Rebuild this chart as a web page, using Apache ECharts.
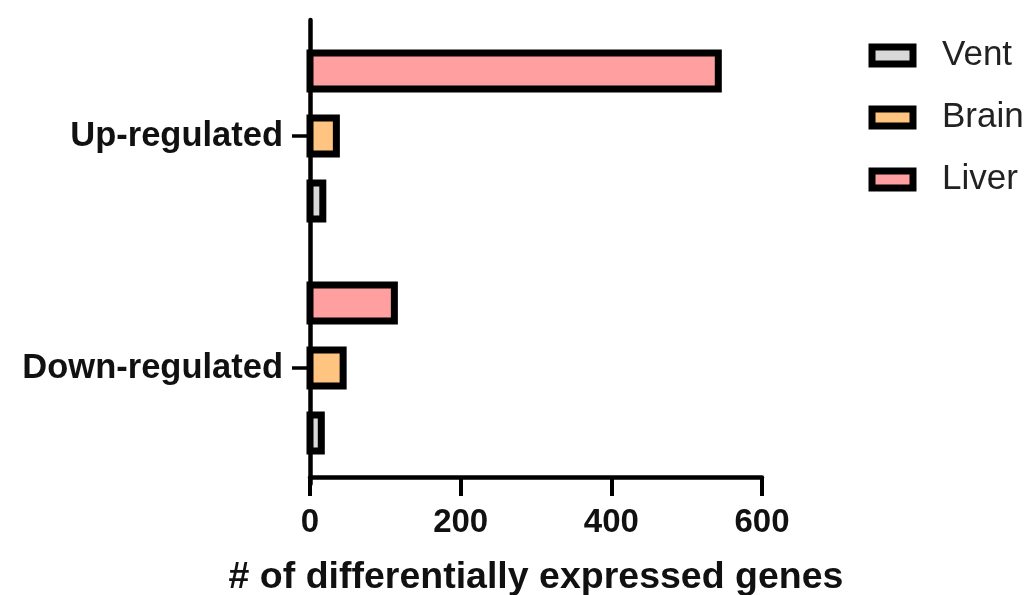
<!DOCTYPE html>
<html>
<head>
<meta charset="utf-8">
<script src="https://cdn.jsdelivr.net/npm/echarts@6/dist/echarts.min.js"></script>
<style>
  html, body { margin: 0; padding: 0; background: #fff; }
  #main { width: 1024px; height: 595px; }
</style>
</head>
<body>
<div id="main"></div>
<script>
// data
var categories = ['Down-regulated', 'Up-regulated'];
var ventValues = [15, 17];
var brainValues = [44, 35];
var liverValues = [112, 542];
var xTicks = [0, 200, 400, 600];

var chart = echarts.init(document.getElementById('main'));

// bars with the outline centred on the edge (as in the original figure)
// slot: -1 = top of the group, 0 = middle, 1 = bottom
function barRenderer(slot) {
    return function (params, api) {
        var cat = api.value(0);
        var val = api.value(1);
        var base = api.coord([0, cat]);
        var tip = api.coord([val, cat]);
        var band = api.size([0, 1])[1];
        var h = 36;
        var cy = base[1] + slot * band * 0.28;
        return {
            type: 'rect',
            shape: { x: base[0], y: cy - h / 2, width: tip[0] - base[0], height: h },
            style: api.style()
        };
    };
}

function toPairs(values) {
    return values.map(function (v, i) { return [i, v]; });
}

option = {
    animation: false,
    textStyle: { fontFamily: 'Liberation Sans, Arial, sans-serif' },
    grid: { left: 310, right: 262, top: 20, bottom: 111, outerBoundsMode: 'none' },
    legend: {
        orient: 'vertical',
        left: 868.5,
        top: 38,
        padding: 0,
        icon: 'rect',
        itemWidth: 41,
        itemHeight: 17,
        itemGap: 27,
        itemStyle: { borderColor: '#000', borderWidth: 7 },
        data: ['Vent', 'Brain', 'Liver'],
        textStyle: { fontSize: 35, color: '#222', padding: [0, 0, 0, 24] }
    },
    xAxis: {
        type: 'value',
        min: xTicks[0],
        max: xTicks[xTicks.length - 1],
        interval: 200,
        offset: -7,
        name: '# of differentially expressed genes',
        nameLocation: 'middle',
        nameGap: 82,
        nameTextStyle: { fontSize: 37.5, fontWeight: 'bold', color: '#111' },
        splitLine: { show: false },
        axisLine: { show: true, lineStyle: { color: '#000', width: 4.5 } },
        axisTick: { show: true, length: 19, lineStyle: { color: '#000', width: 4 } },
        axisLabel: { margin: 29, fontSize: 33, fontWeight: 'bold', color: '#111' }
    },
    yAxis: {
        type: 'category',
        data: categories,
        axisLine: { show: true, lineStyle: { color: '#000', width: 4.5 } },
        axisTick: { show: true, alignWithLabel: true, length: 18, lineStyle: { color: '#000', width: 3.5 } },
        axisLabel: { margin: 27, fontSize: 34.5, fontWeight: 'bold', color: '#111' }
    },
    series: [
        {
            name: 'Liver',
            type: 'custom',
            renderItem: barRenderer(-1),
            encode: { x: 1, y: 0 },
            itemStyle: { color: '#FF9F9F', borderColor: '#000', borderWidth: 7 },
            data: toPairs(liverValues)
        },
        {
            name: 'Brain',
            type: 'custom',
            renderItem: barRenderer(0),
            encode: { x: 1, y: 0 },
            itemStyle: { color: '#FFC47F', borderColor: '#000', borderWidth: 7 },
            data: toPairs(brainValues)
        },
        {
            name: 'Vent',
            type: 'custom',
            renderItem: barRenderer(1),
            encode: { x: 1, y: 0 },
            itemStyle: { color: '#D9D9D9', borderColor: '#000', borderWidth: 7 },
            data: toPairs(ventValues)
        }
    ]
};

chart.setOption(option);
</script>
</body>
</html>
